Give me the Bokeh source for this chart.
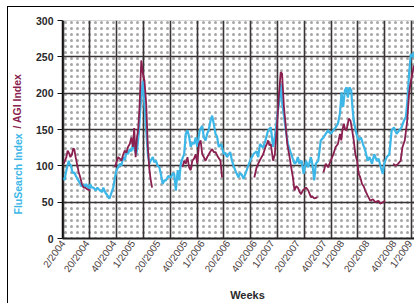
import math
from bokeh.plotting import figure
from bokeh.models import (Range1d, FixedTicker, SingleIntervalTicker, BoxAnnotation, Label)
from bokeh.embed import file_html
from bokeh.resources import INLINE

nan = float("nan")

# ---- axis ticks (week index, 0 = week 2/2004) ----
tick_weeks = [0, 18, 38, 52, 71, 91, 104, 123, 143, 156, 175, 195, 208, 227, 247, 260]
tick_labels = ["2/2004", "20/2004", "40/2004", "1/2005", "20/2005", "40/2005",
               "1/2006", "20/2006", "40/2006", "1/2007", "20/2007", "40/2007",
               "1/2008", "20/2008", "40/2008", "1/2009"]
y_ticks = [0, 50, 100, 150, 200, 250, 300]

# ---- FluSearch index (blue) ----
flu_weeks = [0.5, 1, 2.5, 4.2, 4.6, 5.9, 7, 8.3, 9.5, 11.3, 12.8, 13.3, 15, 16.5, 17, 18.5, 19.4,
             20.1, 21.5, 22.6, 24.3, 25.5, 27.5, 29.2, 30, 31.5, 32.4, 33.7, 34.5, 35.5, 37.4,
             38.5, 39.8, 41, 42.3, 43.5, 44.7, 46, 47.2, 48.4, 49.7, 50.9, 52.1, 53.3, 54.6,
             55.5, 56.6, 57.5, 58.3, 59.5, 60.5, 61.5, 62.3, 63.2, 64.4, 65.5, 66.9, 68, 69.3,
             70.5, 71.8, 73, 74.3, 75.5, 76.7, 78.5, 80.4, 82, 82.9, 84.1, 85.5, 86.6,
             87.8, 89, 90.3, 91.5, 92.8, 94, 95.2, 96.5, 97.7, 98.9, 100.1, 101.9, 103.8, 105,
             106.3, 107.5, 108.7, 110, 111.2, 112.4, 113.7, 114.9, 116.1, 118.1, 119.8, 121,
             122.3, 124.7, 126, 127.2, 128.4, 129.6, 130.9, 132, 133.3, 134.6, 135.8, 137,
             139.5, 142, 144.4, 145.6, 146.9, 149.3, 151, 153, 155, 156.7, 158, 159.2, 160.2,
             161.1, 162.4, 163.6, 165.3, 166.5, 167.8, 170.2, 172.7, 174, 175.2,
             176.3, 178, 179.5, 181.3, 183, 184.9, 186.2, 187.4, 188.6, 190.4, 192.3, 194.3,
             196, 197.7, 199.7, 201.7, 203.4, 205.1, 206.6, 207.8, 209, 210.3, 211.5, 212.5,
             213.7, 215, 215.9, 216.9, 218.9, 220.6, 222.3, 223.8, 225.5, 227.3, 228.7, 230.5,
             232.2, 234.1, 235.4, 237.1, 238.6, 239.6, 241.5, 243.5, 245.2, 246.9, 248.9,
             250.9, 252.6, 254.3, 255.8, 257, 258.2, 259.5, 260.7, 261.7, 262.9]
flu_values = [84, 80, 95, 107, 103, 100, 90, 91, 86, 80, 75, 72, 74, 70, 75, 71, 68,
              75, 70, 70, 66, 70, 66, 64, 70, 63, 61, 57, 55, 60, 70,
              82, 94, 98, 103, 100, 112, 108, 119, 116, 123, 120, 130, 122, 116,
              128, 148, 176, 195, 217, 190, 162, 140, 116, 103, 108, 112, 105, 107,
              100, 98, 88, 75, 80, 80, 86, 84, 90, 89, 66, 94, 80,
              103, 110, 116, 144, 149, 140, 126, 132, 130, 139, 126, 149, 155, 139,
              135, 144, 150, 162, 169, 158, 144, 140, 126, 130, 116, 118,
              112, 119, 107, 100, 94, 89, 84, 90, 88, 82, 88, 94,
              107, 116, 120, 112, 130, 125, 135, 149, 153, 126, 140, 158, 175,
              185, 213, 185, 162, 145, 130, 116, 103, 105, 112,
              103, 107, 89, 107, 98, 112, 100, 80, 103, 107, 135, 139,
              144, 149, 144, 149, 153, 158, 172, 201, 181, 204, 208, 194,
              208, 204, 181, 162, 144, 135, 139, 130, 121, 107, 112, 103,
              116, 107, 110, 98, 89, 103, 112, 116, 149, 153, 144,
              149, 153, 162, 167, 190, 227, 254, 250, 256, 245]

# ---- AGI index (maroon), seasons separated by gaps ----
agi_weeks = [0.5, 1.5, 2.4, 3.3, 4.2, 5.4, 6.6, 7.5, 8.3, 9.3, 10.3, 11.5, 12.8, 14, 15.2, 16.5,
             17.7, 19, 20.1, nan,
             38.6, 39.8, 41.1, 42.3, 43.5, 44.7, 46, 47.2, 48.4, 49.7, 50.9, 52.1, 53, 54.1,
             55.1, 56, 57, 58.3, 59.5, 60.7, 62, 63.2, 64.4, 65.4, 66.4, nan,
             89.1, 90.3, 91.5, 92.8, 94, 95.2, 96.4, 97.7, 98.9, 100.1, 101.4, 102.6, 103.8,
             105, 106.3, 107.5, 108.7, 110, 111.2, 112.4, 113.7, 115.6, 117.4, 118.6, nan,
             142.7, 144.4, 145.6, 146.9, 148.1, 149.3, 151, 152, 153, 154, 155, 156.7, 158,
             159.4, 160.9, 162.4, 163.4, 164.8, 165.8, 167.3, 169, 170.2, 171.5, 172.7, 174,
             175.2, 176.5, 177.6, 178.8, 180, 181.3, 183, 184.9, 186, 187.4, 188.6, 189.9, nan,
             194.3, 196, 197.7, 199.7, 201.7, 203.4, 205.1, 206.6, 207.6, 208.5, 209.5, 210.5,
             211.5, 213.2, 214.5, 215.7, 216.9, 218.1, 219.4, 220.6, 221.8, 223.1, 224.3,
             225.5, 227.3, 229.2, 231.2, 232.9, 235.4, 236.6, 238.6, 240.3, nan,
             246.4, 248.2, 250.1, 251.9, 253.3, 255, 256.8, 258.2, 259.2, 260.7, 261.7]
agi_values = [103, 108, 112, 121, 118, 112, 116, 124, 123, 112, 103, 92, 84, 75, 70, 70,
              68, 67, 66, nan,
              98, 105, 112, 110, 107, 115, 121, 118, 126, 130, 139, 126, 152, 112,
              139, 150, 181, 245, 227, 217, 185, 126, 94, 80, 70, nan,
              98, 107, 103, 112, 98, 94, 107, 110, 116, 103, 130, 135, 116,
              112, 107, 112, 116, 120, 123, 119, 119, 112, 107, 84, nan,
              84, 98, 103, 108, 112, 116, 126, 130, 135, 128, 130, 107, 116,
              149, 194, 229, 227, 181, 162, 130, 112, 98, 84, 66, 72,
              70, 64, 61, 66, 68, 70, 66, 57, 58, 55, 56, 57, nan,
              91, 103, 98, 107, 116, 126, 130, 144, 135, 150, 158, 150,
              149, 165, 162, 149, 135, 116, 107, 89, 84, 75, 72,
              66, 59, 52, 54, 50, 52, 48, 50, 52, nan,
              103, 100, 103, 107, 126, 135, 162, 199, 213, 227, 238]

BLUE = "#3db7e8"
MAROON = "#8a1f50"

p = figure(width=407, height=297, output_backend="svg", toolbar_location=None,
           x_range=Range1d(-0.5, 263), y_range=Range1d(0, 300),
           min_border_left=50, min_border_right=0, min_border_top=13, min_border_bottom=66)
p.styles = {"margin-left": "7px", "margin-top": "6px",
            "border-left": "1px solid #000", "border-top": "1px solid #000"}
p.outline_line_color = "#c8c8c8"
p.background_fill_color = "white"
p.border_fill_color = "white"

# dotted plot background
p.add_layout(BoxAnnotation(fill_color="white", fill_alpha=1.0, line_color=None,
                           hatch_pattern="dot", hatch_color="#a6a6a6", hatch_scale=6,
                           hatch_weight=0.7, level="image"))

# grids
p.xgrid.ticker = SingleIntervalTicker(interval=20, num_minor_ticks=0)
p.ygrid.ticker = FixedTicker(ticks=y_ticks[1:-1])
for g in (p.xgrid, p.ygrid):
    g.grid_line_color = "#3a3434"
    g.grid_line_width = 1.6

# axes
p.yaxis.ticker = FixedTicker(ticks=y_ticks)
p.yaxis.axis_line_color = "#111111"
p.yaxis.axis_line_width = 1.5
p.yaxis.major_tick_out = 5
p.yaxis.major_tick_in = 0
p.yaxis.major_tick_line_color = "#111111"
p.yaxis.minor_tick_line_color = None
p.yaxis.major_label_text_font = "Liberation Sans"
p.yaxis.major_label_text_font_style = "bold"
p.yaxis.major_label_text_font_size = "10.5px"
p.yaxis.major_label_text_color = "#2a2a2a"
p.yaxis.major_label_standoff = 4

p.xaxis.ticker = FixedTicker(ticks=tick_weeks)
p.xaxis.major_label_overrides = {w: t for w, t in zip(tick_weeks, tick_labels)}
p.xaxis.major_label_orientation = 0.95
p.xaxis.axis_line_color = "#222222"
p.xaxis.axis_line_width = 2
p.xaxis.major_tick_out = 0
p.xaxis.major_tick_in = 0
p.xaxis.minor_tick_line_color = None
p.xaxis.major_label_text_font = "Liberation Sans"
p.xaxis.major_label_text_font_size = "10px"
p.xaxis.major_label_text_color = "#4a4040"
p.xaxis.major_label_standoff = 3

# series
p.line(flu_weeks, flu_values, line_color=BLUE, line_width=2.2)
p.line(agi_weeks, agi_values, line_color=MAROON, line_width=1.8)

# axis titles, placed in the side panels (screen units relative to each panel)
p.add_layout(Label(x=-3, y=24, x_units="screen", y_units="screen",
                   text="FluSearch Index", angle=math.pi / 2,
                   text_align="left", text_baseline="middle", text_color=BLUE,
                   text_font="Liberation Sans", text_font_style="bold",
                   text_font_size="10.5px"), "left")
p.add_layout(Label(x=8, y=110, x_units="screen", y_units="screen",
                   text="/ AGI Index", angle=math.pi / 2,
                   text_align="left", text_baseline="middle", text_color=MAROON,
                   text_font="Liberation Sans", text_font_style="bold",
                   text_font_size="10.5px"), "left")
p.add_layout(Label(x=185, y=-2, x_units="screen", y_units="screen",
                   text="Weeks", text_align="center", text_baseline="middle",
                   text_color="#2a2a2a", text_font="Liberation Sans",
                   text_font_style="bold", text_font_size="11px"), "below")

open("out.html", "w").write(file_html(p, INLINE))
